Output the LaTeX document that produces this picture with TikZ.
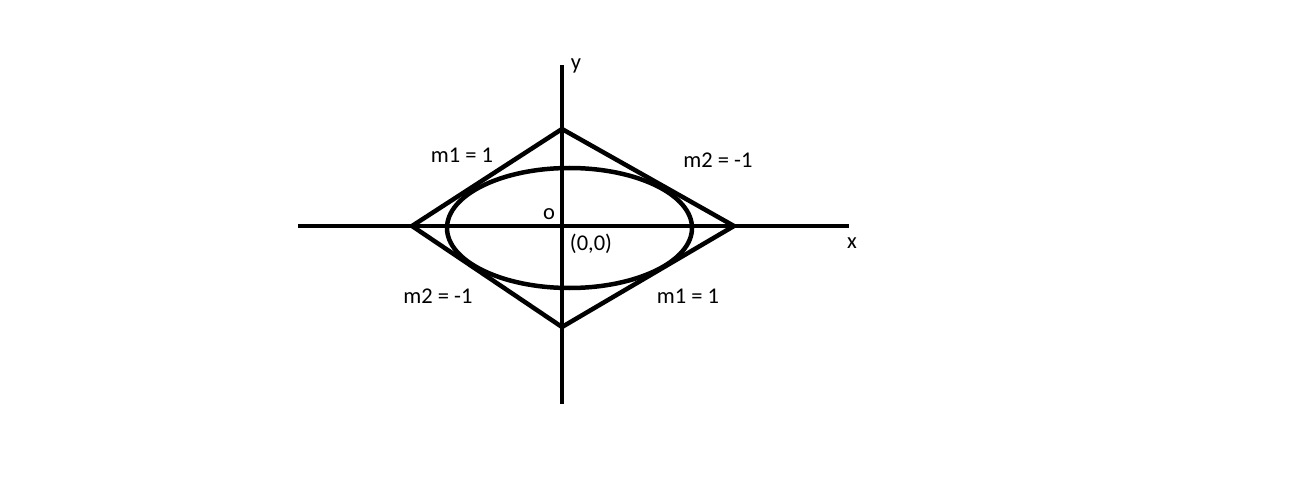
\documentclass[tikz,border=0pt]{standalone}
\usepackage{fontspec}
\setmainfont{Carlito}
\begin{document}
\begin{tikzpicture}[x=1pt,y=-1pt,
  heavy/.style={line width=4.5pt,black},
  lbl/.style={font=\fontsize{22.5}{27}\selectfont,inner sep=0pt}]
\useasboundingbox (0,0) rectangle (1304,492);
\coordinate (xl) at (298,226);
\coordinate (xr) at (849,226);
\coordinate (yt) at (562,65);
\coordinate (yb) at (562,404);
\coordinate (dl) at (412,226);
\coordinate (dr) at (734,226);
\coordinate (dt) at (562,129);
\coordinate (db) at (562,327);
\coordinate (ec) at (569.5,228);
\draw[heavy] (xl) -- (xr);
\draw[heavy] (yt) -- (yb);
\draw[heavy,line join=miter] (dl) -- (dt) -- (dr) -- (db) -- cycle;
\draw[heavy] (ec) ellipse [x radius=122.5, y radius=60];
\node[lbl] (ylab) at (576,66) {y};
\node[lbl] (xlab) at (852,243) {x};
\node[lbl] (olab) at (549,214) {o};
\node[lbl] (orig) at (591,244) {(0,0)};
\node[lbl] (m1a) at (462,155) {m1 = 1};
\node[lbl] (m2a) at (718,160) {m2 = -1};
\node[lbl] (m2b) at (438,296) {m2 = -1};
\node[lbl] (m1b) at (688,296) {m1 = 1};
\end{tikzpicture}
\end{document}
